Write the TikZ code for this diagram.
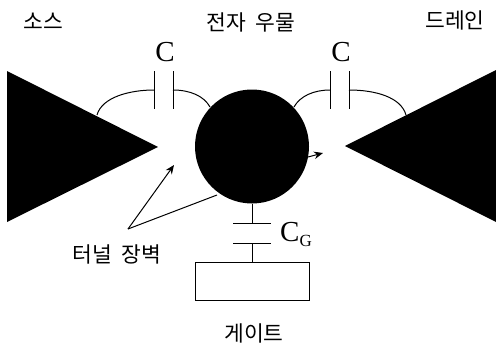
\documentclass[tikz,border=0pt]{standalone}
\usepackage{fontspec}
\setmainfont{Liberation Serif}
\newfontfamily\krfont{Noto Sans CJK KR}
\usetikzlibrary{arrows.meta}
\tikzset{
  lead/.style={black,line width=1pt},
  plate/.style={black,line width=1pt},
  krlabel/.style={inner sep=0pt,font=\krfont\fontsize{21.5}{24}\selectfont},
  caplabel/.style={inner sep=0pt,font=\fontsize{29}{31}\selectfont},
  pointer/.style={black,line width=1pt,-{Stealth[length=9pt,width=7.5pt]}}
}
\begin{document}
\begin{tikzpicture}[x=1pt,y=-1pt]
\useasboundingbox (0,0) rectangle (496,351);
% electrodes and dot
\fill[black] (7,71) -- (158,147) -- (7,222) -- cycle;
\fill[black] (496,70) -- (345,146) -- (496,222) -- cycle;
\node[circle,fill=black,minimum size=114pt,inner sep=0pt] (dot) at (252,146.5) {};
% anchors
\coordinate (sourceTap) at (97,115);
\coordinate (drainTap) at (406,115);
\coordinate (dotL) at (210,107);
\coordinate (dotR) at (294,107);
\coordinate (lpa) at (154,71); \coordinate (lpb) at (154,109);
\coordinate (lqa) at (173,71); \coordinate (lqb) at (173,109);
\coordinate (rpa) at (330,71); \coordinate (rpb) at (330,109);
\coordinate (rqa) at (349,71); \coordinate (rqb) at (349,109);
\coordinate (lp) at (154,90); \coordinate (lq) at (173,90);
\coordinate (rp) at (330,90); \coordinate (rq) at (349,90);
% source and drain capacitors
\draw[plate] (lpa) -- (lpb);
\draw[plate] (lqa) -- (lqb);
\draw[plate] (rpa) -- (rpb);
\draw[plate] (rqa) -- (rqb);
\draw[lead] (sourceTap) .. controls (102,97) and (130,90) .. (lp);
\draw[lead] (lq) .. controls (190,90) and (204,96) .. (dotL);
\draw[lead] (dotR) .. controls (300,96) and (314,90) .. (rp);
\draw[lead] (rq) .. controls (375,90) and (401,97) .. (drainTap);
% gate
\node[draw=black,line width=1pt,minimum width=114pt,minimum height=38pt,inner sep=0pt] (gate) at (252,281) {};
\coordinate (gpa) at (233,223); \coordinate (gpb) at (271,223);
\coordinate (gqa) at (233,243); \coordinate (gqb) at (271,243);
\coordinate (gp) at (252,223); \coordinate (gq) at (252,243);
\draw[plate] (gpa) -- (gpb);
\draw[plate] (gqa) -- (gqb);
\draw[lead] (dot.south) -- (gp);
\draw[lead] (gq) -- (gate.north);
% tunnel barrier pointers
\coordinate (tb) at (128,229);
\coordinate (tbHead) at (174,165);
\coordinate (tbDot) at (217,195);
\coordinate (outA) at (308,157);
\coordinate (outB) at (323,153);
\draw[pointer] (tb) -- (tbHead);
\draw[lead] (tb) -- (tbDot);
\draw[pointer] (outA) -- (outB);
% labels
\node[krlabel] (src) at (43,21) {소스};
\node[krlabel] (well) at (251,22) {전자\hspace{5pt} 우물};
\node[krlabel] (drn) at (455,20) {드레인};
\node[caplabel] (cl) at (165,52) {C};
\node[caplabel] (cr) at (341,52) {C};
\node[caplabel,anchor=west] (cg) at (280,234) {C\raisebox{-5pt}{\fontsize{17}{17}\selectfont G}};
\node[krlabel] (tbl) at (117,254) {터널\hspace{5pt} 장벽};
\node[krlabel] (gtl) at (254,333) {게이트};
\end{tikzpicture}
\end{document}
